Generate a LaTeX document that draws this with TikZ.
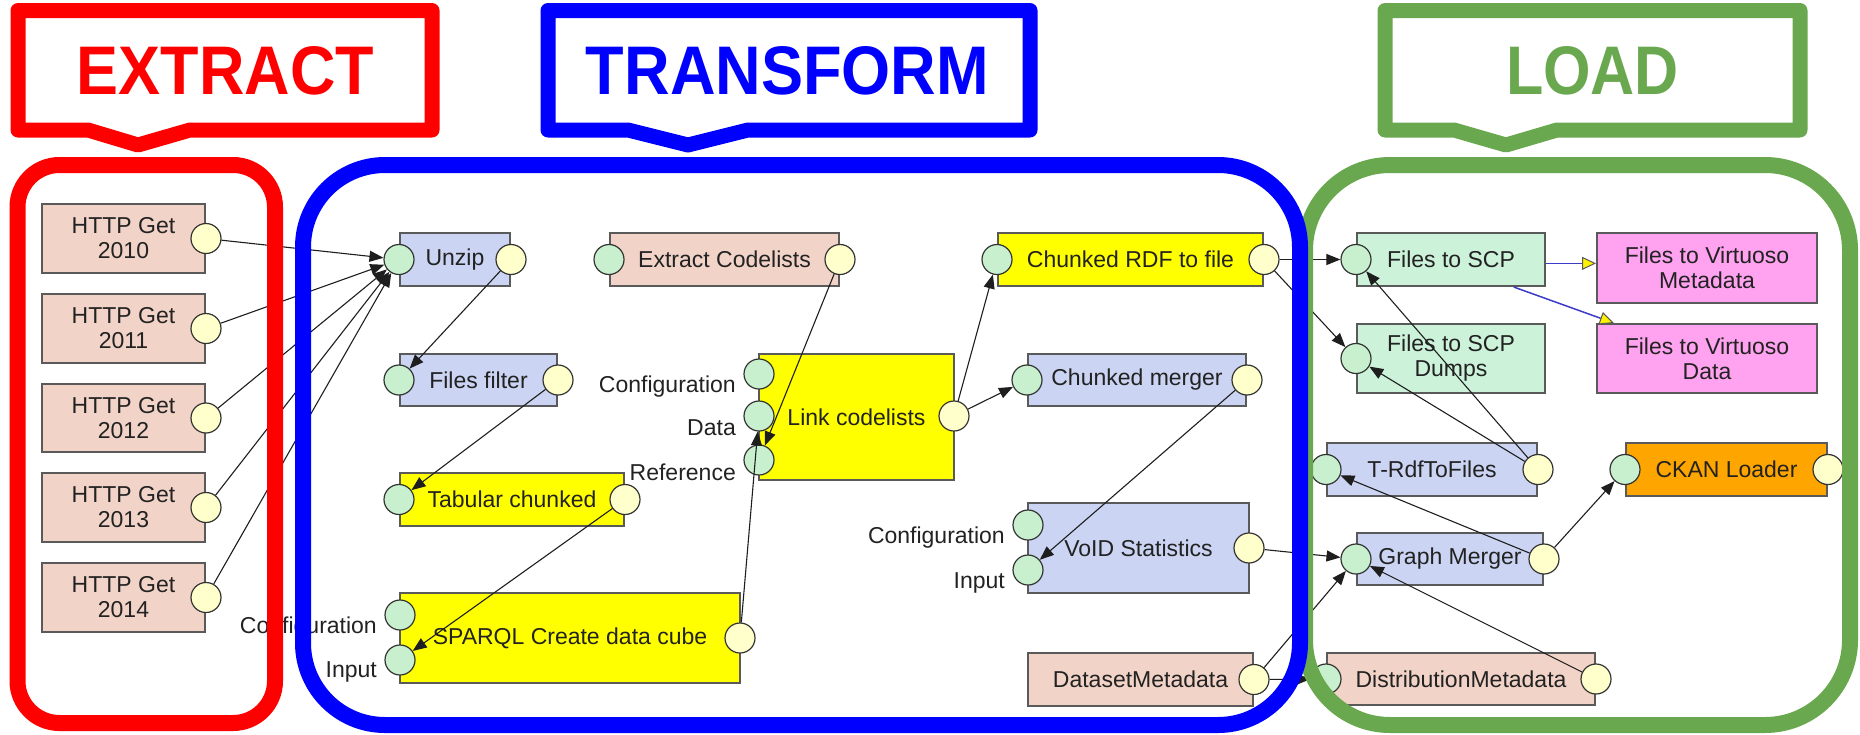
\documentclass[tikz,border=0pt]{standalone}
\usepackage{fontspec}
\setmainfont{Liberation Sans}
\usepackage{graphicx}
\usetikzlibrary{arrows.meta,calc}

% palette
\definecolor{pinkcol}{RGB}{242,211,200}
\definecolor{bluecol}{RGB}{203,212,242}
\definecolor{yelcol}{RGB}{255,255,0}
\definecolor{mintcol}{RGB}{204,242,218}
\definecolor{magcol}{RGB}{255,163,240}
\definecolor{oracol}{RGB}{255,165,0}
\definecolor{incol}{RGB}{200,240,206}
\definecolor{outcol}{RGB}{255,255,204}
\definecolor{frameR}{RGB}{255,0,0}
\definecolor{frameB}{RGB}{0,0,255}
\definecolor{frameG}{RGB}{106,168,79}
\definecolor{boxline}{RGB}{90,90,90}
\definecolor{txtcol}{RGB}{34,34,34}
\definecolor{wirecol}{RGB}{30,30,30}
\definecolor{vwire}{RGB}{60,60,200}

\newcommand\nodefont{\fontsize{23}{25}\selectfont}
% component box: name, x1, y1, x2, y2, fill, label
\newcommand\comp[7]{%
  \node[compbox,fill=#6,minimum width={#4-#2},minimum height={#5-#3}]
    (#1) at ({(#2+#4)/2},{(#3+#5)/2}) {#7};}

\begin{document}
\begin{tikzpicture}[x=1pt,y=-1pt,
  compbox/.style={draw=boxline,line width=2,inner sep=0,align=center,
    font=\nodefont,text=txtcol},
  inp/.style={circle,draw=black!80,line width=1.2,fill=incol,minimum size=30,inner sep=0},
  outp/.style={circle,draw=black!80,line width=1.2,fill=outcol,minimum size=30,inner sep=0},
  plabel/.style={font=\nodefont,text=txtcol,inner sep=0,anchor=east},
  conn/.style={draw=wirecol,line width=1.1,-{Triangle[length=14,width=11]}},
  vconn/.style={draw=vwire,line width=1.5,
    -{Triangle[length=14,width=13,color=black!65,fill=yellow,line width=1]}},
  frame/.style={line width=16},
  callout/.style={line width=15,line join=round},
  headtxt/.style={inner sep=0,font=\bfseries}]
\useasboundingbox (0,0) rectangle (1860,734);

% ---------- extract components ----------
\comp{h1}{42}{204}{205}{273}{pinkcol}{HTTP Get\\2010}
\comp{h2}{42}{294}{205}{363}{pinkcol}{HTTP Get\\2011}
\comp{h3}{42}{384}{205}{452}{pinkcol}{HTTP Get\\2012}
\comp{h4}{42}{473}{205}{542}{pinkcol}{HTTP Get\\2013}
\comp{h5}{42}{563}{205}{632}{pinkcol}{HTTP Get\\2014}
\foreach \n in {h1,h2,h3,h4,h5} \node[outp] (\n-o) at (\n.east) {};

% ---------- transform components ----------
\comp{unzip}{400}{233}{510}{286}{bluecol}{Unzip}
\comp{excod}{610}{233}{839}{286}{pinkcol}{Extract Codelists}
\comp{ffilt}{400}{354}{557}{406}{bluecol}{Files filter}
\comp{tabch}{400}{473}{624}{526}{yelcol}{Tabular chunked}
\comp{sparql}{400}{593}{740}{683}{yelcol}{SPARQL Create data cube}
\comp{link}{759}{354}{954}{480}{yelcol}{Link codelists}
\comp{crdf}{998}{233}{1263}{286}{yelcol}{Chunked RDF to file}
\comp{cmerge}{1028}{354}{1246}{406}{bluecol}{Chunked merger}
\comp{void}{1028}{503}{1249}{593}{bluecol}{VoID Statistics}
\comp{dsmeta}{1028}{653}{1253}{706}{pinkcol}{DatasetMetadata}

\foreach \n in {unzip,excod,ffilt,tabch,crdf,cmerge}{
  \node[inp] (\n-i) at (\n.west) {};
  \node[outp] (\n-o) at (\n.east) {};}
\node[inp] (sparql-c) at (400,615) {};
\node[inp] (sparql-i) at (400,660) {};
\node[outp] (sparql-o) at (740,638) {};
\node[inp] (link-c) at (759,374) {};
\node[inp] (link-d) at (759,416) {};
\node[inp] (link-r) at (759,460) {};
\node[outp] (link-o) at (954,416) {};
\node[inp] (void-c) at (1028,525) {};
\node[inp] (void-i) at (1028,570) {};
\node[outp] (void-o) at (1249,548) {};
\node[outp] (dsmeta-o) at (dsmeta.east) {};

\node[plabel] (sparql-cl) at (377,628) {Configuration};
\node[plabel] (sparql-il) at (377,672) {Input};
\node[plabel] (link-cl) at (736,387) {Configuration};
\node[plabel] (link-dl) at (736,428) {Data};
\node[plabel] (link-rl) at (736,472) {Reference};
\node[plabel] (void-cl) at (1005,538) {Configuration};
\node[plabel] (void-il) at (1005,583) {Input};

% ---------- load components ----------
\comp{scp}{1357}{233}{1545}{286}{mintcol}{Files to SCP}
\comp{scpd}{1357}{324}{1545}{393}{mintcol}{Files to SCP\\Dumps}
\comp{vmeta}{1597}{233}{1817}{303}{magcol}{Files to Virtuoso\\Metadata}
\comp{vdata}{1597}{324}{1817}{393}{magcol}{Files to Virtuoso\\Data}
\comp{trdf}{1327}{443}{1537}{496}{bluecol}{T-RdfToFiles}
\comp{ckan}{1626}{443}{1827}{496}{oracol}{CKAN Loader}
\comp{gmerge}{1357}{533}{1543}{585}{bluecol}{Graph Merger}
\comp{distm}{1327}{653}{1595}{705}{pinkcol}{DistributionMetadata}
\node[inp] (scp-i) at (scp.west) {};
\node[inp] (scpd-i) at (scpd.west) {};
\foreach \n in {trdf,ckan,gmerge,distm}{
  \node[inp] (\n-i) at (\n.west) {};
  \node[outp] (\n-o) at (\n.east) {};}

% ---------- data flow ----------
\foreach \n in {h1,h2,h3,h4,h5} \draw[conn] (\n-o) -- (unzip-i);
\draw[conn] (unzip-o) -- (ffilt-i);
\draw[conn] (ffilt-o) -- (tabch-i);
\draw[conn] (tabch-o) -- (sparql-i);
\draw[conn] (excod-o) -- (link-r);
\draw[conn] (sparql-o) -- (link-d);
\draw[conn] (link-o) -- (crdf-i);
\draw[conn] (link-o) -- (cmerge-i);
\draw[conn] (cmerge-o) -- (void-i);
\draw[conn] (crdf-o) -- (scp-i);
\draw[conn] (crdf-o) -- (scpd-i);
\draw[conn] (void-o) -- (gmerge-i);
\draw[conn] (dsmeta-o) -- (gmerge-i);
\draw[conn] (dsmeta-o) -- (distm-i);
\draw[conn] (trdf-o) -- (scp-i);
\draw[conn] (trdf-o) -- (scpd-i);
\draw[conn] (gmerge-o) -- (trdf-i);
\draw[conn] (gmerge-o) -- (ckan-i);
\draw[conn] (distm-o) -- (gmerge-i);

% run-after links to the Virtuoso loaders
\coordinate (scp-r) at ($(scp.north east)!0.57!(scp.south east)$);
\coordinate (scp-b) at ($(scp.south west)!0.83!(scp.south east)$);
\coordinate (vdata-t) at ($(vdata.north west)!0.08!(vdata.north east)$);
\draw[vconn] (scp-r) -- (scp-r -| vmeta.west);
\draw[vconn] (scp-b) -- (vdata-t);

% ---------- phase frames ----------
\draw[frame,frameG,rounded corners=85] (1305,165) rectangle (1850,725);
\draw[frame,frameB,rounded corners=82] (303,165) rectangle (1300,725);
\draw[frame,frameR,rounded corners=42] (17.5,165) rectangle (275,723);

% ---------- phase callouts ----------
\draw[callout,frameR] (18,10.5) -- (432,10.5) -- (432,130) -- (190,130)
  -- (138,145) -- (88,130) -- (18,130) -- cycle;
\draw[callout,frameB] (548,10.5) -- (1030,10.5) -- (1030,130) -- (748,130)
  -- (688,145) -- (628,130) -- (548,130) -- cycle;
\draw[callout,frameG] (1385,10.5) -- (1800,10.5) -- (1800,130) -- (1557,130)
  -- (1506,145) -- (1454,130) -- (1385,130) -- cycle;
\node[headtxt,text=frameR] (hx) at (225.5,71) {\resizebox{297pt}{48pt}{EXTRACT}};
\node[headtxt,text=frameB] (ht) at (787.5,71) {\resizebox{403pt}{48pt}{TRANSFORM}};
\node[headtxt,text=frameG] (hl) at (1592.5,71) {\resizebox{173pt}{48pt}{LOAD}};
\end{tikzpicture}
\end{document}
